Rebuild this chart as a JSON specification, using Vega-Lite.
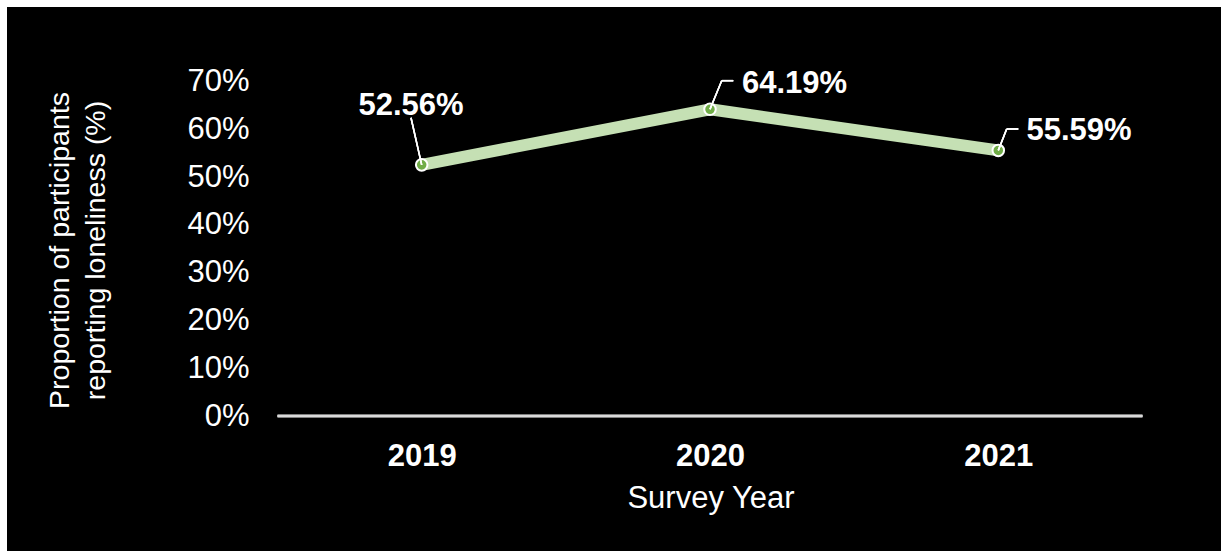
{
  "$schema": "https://vega.github.io/schema/vega-lite/v6.json",
  "width": 1214,
  "height": 544,
  "autosize": {"type": "none"},
  "padding": {"left": 7, "top": 7, "right": 0, "bottom": 0},
  "background": "white",
  "config": {
    "view": {"fill": "black", "stroke": null},
    "font": "Liberation Sans"
  },
  "data": {
    "values": [
      {"year": 2019, "value": 0.5256},
      {"year": 2020, "value": 0.6419},
      {"year": 2021, "value": 0.5559}
    ]
  },
  "encoding": {
    "x": {
      "field": "year",
      "type": "quantitative",
      "scale": {"domain": [2017.5616, 2021.7725], "nice": false, "zero": false},
      "axis": {
        "title": "Survey Year",
        "values": [2019, 2020, 2021],
        "format": "d",
        "offset": -135,
        "domain": false,
        "ticks": false,
        "tickSize": 0,
        "grid": false,
        "labelFontSize": 31,
        "labelFontWeight": "bold",
        "labelColor": "white",
        "labelBaseline": "alphabetic",
        "labelPadding": 49,
        "labelFlush": false,
        "labelOverlap": false,
        "titleFontSize": 31,
        "titleFontWeight": "normal",
        "titleColor": "white",
        "titleX": 703.5,
        "titleY": 91,
        "titleBaseline": "alphabetic",
        "titleAlign": "center"
      }
    },
    "y": {
      "field": "value",
      "type": "quantitative",
      "scale": {"domain": [-0.2825, 0.856], "nice": false, "zero": false},
      "axis": {
        "title": ["Proportion of participants", "reporting loneliness (%)"],
        "values": [0, 0.1, 0.2, 0.3, 0.4, 0.5, 0.6, 0.7],
        "format": ".0%",
        "offset": -251,
        "domain": false,
        "ticks": false,
        "tickSize": 0,
        "grid": false,
        "labelFontSize": 31,
        "labelColor": "white",
        "labelPadding": 9,
        "labelFlush": false,
        "labelOverlap": false,
        "titleFontSize": 28.5,
        "titleFontWeight": "normal",
        "titleColor": "white",
        "titleX": -189.5,
        "titleY": 243,
        "titleAngle": 270,
        "titleAlign": "center",
        "titleBaseline": "alphabetic",
        "titleLineHeight": 36
      }
    }
  },
  "layer": [
    {
      "mark": {"type": "rule", "color": "#d9d9d9", "strokeWidth": 2.5},
      "encoding": {
        "x": {"datum": 2018.5, "type": "quantitative"},
        "x2": {"datum": 2021.5},
        "y": {"datum": 0, "type": "quantitative"}
      }
    },
    {
      "mark": {"type": "line", "color": "#c5e0b4", "strokeWidth": 12, "strokeCap": "round", "strokeJoin": "round"}
    },
    {
      "mark": {"type": "point", "filled": true, "fill": "#70ad47", "stroke": "white", "strokeWidth": 2, "size": 133, "opacity": 1}
    },
    {
      "mark": {"type": "rule", "color": "white", "strokeWidth": 1.5},
      "encoding": {
        "x": {"datum": 2019, "type": "quantitative"},
        "y": {"datum": 0.5256, "type": "quantitative"},
        "x2": {"datum": 2018.9629},
        "y2": {"datum": 0.6243}
      }
    },
    {
      "mark": {"type": "rule", "color": "white", "strokeWidth": 1.5},
      "encoding": {
        "x": {"datum": 2020, "type": "quantitative"},
        "y": {"datum": 0.6419, "type": "quantitative"},
        "x2": {"datum": 2020.0406},
        "y2": {"datum": 0.7018}
      }
    },
    {
      "mark": {"type": "rule", "color": "white", "strokeWidth": 1.5},
      "encoding": {
        "x": {"datum": 2020.0406, "type": "quantitative"},
        "y": {"datum": 0.7018, "type": "quantitative"},
        "x2": {"datum": 2020.0808},
        "y2": {"datum": 0.7018}
      }
    },
    {
      "mark": {"type": "rule", "color": "white", "strokeWidth": 1.5},
      "encoding": {
        "x": {"datum": 2021, "type": "quantitative"},
        "y": {"datum": 0.5559, "type": "quantitative"},
        "x2": {"datum": 2021.0291},
        "y2": {"datum": 0.6007}
      }
    },
    {
      "mark": {"type": "rule", "color": "white", "strokeWidth": 1.5},
      "encoding": {
        "x": {"datum": 2021.0291, "type": "quantitative"},
        "y": {"datum": 0.6007, "type": "quantitative"},
        "x2": {"datum": 2021.0694},
        "y2": {"datum": 0.6007}
      }
    },
    {
      "transform": [{"filter": "datum.year == 2019"}],
      "mark": {"type": "text", "color": "white", "fontSize": 31, "fontWeight": "bold", "align": "center", "baseline": "alphabetic", "dx": -10.7, "dy": -50},
      "encoding": {"text": {"field": "value", "type": "quantitative", "format": ".2%"}}
    },
    {
      "transform": [{"filter": "datum.year == 2020"}],
      "mark": {"type": "text", "color": "white", "fontSize": 31, "fontWeight": "bold", "align": "left", "baseline": "alphabetic", "dx": 32, "dy": -16},
      "encoding": {"text": {"field": "value", "type": "quantitative", "format": ".2%"}}
    },
    {
      "transform": [{"filter": "datum.year == 2021"}],
      "mark": {"type": "text", "color": "white", "fontSize": 31, "fontWeight": "bold", "align": "left", "baseline": "alphabetic", "dx": 28.2, "dy": -10},
      "encoding": {"text": {"field": "value", "type": "quantitative", "format": ".2%"}}
    }
  ]
}
